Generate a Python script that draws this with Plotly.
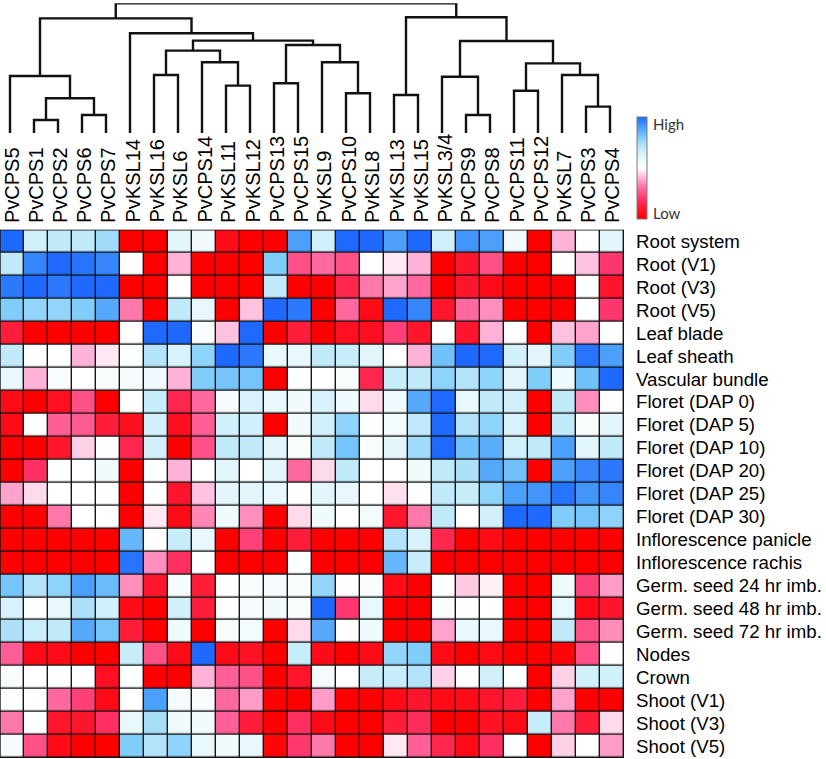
import plotly.graph_objects as go

W, H = 826, 759

genes = ["PvCPS5", "PvCPS1", "PvCPS2", "PvCPS6", "PvCPS7", "PvKSL14", "PvKSL16", "PvKSL6",
         "PvCPS14", "PvKSL11", "PvKSL12", "PvCPS13", "PvCPS15", "PvKSL9", "PvCPS10", "PvKSL8",
         "PvKSL13", "PvKSL15", "PvKSL3/4", "PvCPS9", "PvCPS8", "PvCPS11", "PvCPS12", "PvKSL7",
         "PvCPS3", "PvCPS4"]

tissues = ["Root system", "Root (V1)", "Root (V3)", "Root (V5)", "Leaf blade", "Leaf sheath",
           "Vascular bundle", "Floret (DAP 0)", "Floret (DAP 5)", "Floret (DAP 10)",
           "Floret (DAP 20)", "Floret (DAP 25)", "Floret (DAP 30)", "Inflorescence panicle",
           "Inflorescence rachis", "Germ. seed 24 hr imb.", "Germ. seed 48 hr imb.",
           "Germ. seed 72 hr imb.", "Nodes", "Crown", "Shoot (V1)", "Shoot (V3)", "Shoot (V5)"]

# relative expression (-5 = Low ... +5 = High), one list per tissue
root_system = [5, 1.5, 2, 2, 2.5, -5, -5, 1, 0.5, -4.5, -5, -5, 4, 1.5, 5, 5, 4, 5, 1.5, 4.2, 4, 0.5, -5, -1, 0, 1]
root_v1 = [2, 4.5, 5, 4.8, 4.5, 0, -5, -1, -5, -5, -5, 3, -2.5, -2, -2.5, 0, -0.3, -1, -5, -4, -2.5, -5, -5, 0, -0.8, -3]
root_v3 = [4.7, 5, 4.7, 5, 5, -5, -5, 0, -5, -5, -5, 2, -5, -5, -3.5, -1.8, -1.2, -2, -5, -4, -4.5, -5, -5, -5, 0, -4]
root_v5 = [3, 2.7, 2.7, 3, 3.8, -1.8, -5, 2, 0.8, -5, -0.8, 5, 4.7, -5, -2, -4.5, 5, 4.5, -4, -2, -1.5, -5, -5, -5, 0, -3]
leaf_blade = [-3.8, -5, -5, -5, -5, 0, 5, 5, 0.2, -0.8, 5, -5, -3.8, -5, -4.3, -4.3, -2.8, -4, 0, -4, -1, 0, -5, -0.8, -1.2, 0]
leaf_sheath = [2, 0, 0, -1, -0.3, 0.1, 2.2, 1.3, 2.8, 5, 4.7, 0.8, 0.8, 2, 1.8, 1, 0, -1, 3.3, 5, 5, 1.5, 1, 3, 4.8, 4]
vascular = [0.8, -1, 0.2, 0, 0.2, 0.3, 0.6, -1, 3, 3.2, 3.2, -5, 0.1, 0, 0.2, -3.5, 1.8, 2, 2.8, 2.2, 2.8, 1, 3, 0.6, 3.3, 5]
floret_0 = [-4.5, -5, -4.3, -2.5, -5, 0, 1.8, -3.5, -2, 0.3, 1.3, 0.8, 0.5, 1.3, 0.6, -0.5, 0.6, 3.8, 5, 0.8, 2, 1.5, -5, 2, -1.5, 0]
floret_5 = [-4.5, 0, -2.2, -2.3, -3.8, -4.3, 1.5, -4.3, -2.2, 1.5, 1.5, -5, 0.5, 1.5, 2.8, 0.1, 0.4, 2, 5, 2.2, 2.8, 1.3, -5, 2, 0.2, 1]
floret_10 = [-5, -5, -4, -0.6, 0, -3.5, 1.5, -5, -2.5, 2, 2, 1, 0.2, 2, 3.2, 0.2, 1, 2.5, 5, 3.3, 3.7, 1.5, 2, 4, 1, 2]
floret_20 = [-5, -3.2, 0, 0, 0.5, -5, 0.1, -1, 0, 1, 0, 1, -2, -0.5, 2, 0, 0, 0.5, 2, 2.3, 3.8, 3.3, -5, 4, 4.5, 4.7]
floret_25 = [-1.2, -0.5, 0, 0, 0, -5, 0, -4, -0.8, 1, 1, 0.8, 0, 1, 0.8, 0, -0.4, 0, 2, 1.8, 2.8, 4, 4.2, 4.8, 4.2, 4.5]
floret_30 = [-5, -5, -1.8, 0, 0, -5, -0.3, -4.5, -1.6, 0.6, -1.5, -5, -0.5, 0.6, 0, 0.4, -4, -1.8, 2, 0, 1.5, 5, 5, 3, 3.2, 2.8]
infl_panicle = [-5, -5, -5, -5, -5, 3.5, 0, 1.8, 0.8, -5, -2.8, -5, -3.8, -5, -5, -5, 2.2, 1.3, -3.5, -5, -4.5, -5, -5, -5, -5, -5]
infl_rachis = [-5, -5, -5, -5, -5, 4.8, -1.5, -3.2, 0, -5, -5, -5, 0.1, -5, -5, -5, 3.5, 1.8, -5, -5, -5, -5, -5, -5, -5, -5]
germ_24 = [3.2, 2.2, 2.8, 4, 3.4, -1.5, -4, 0.3, -3.8, 0, 0.2, 0.4, 0.2, 2.7, 0, 0.2, -4.5, -5, 0, -0.7, -0.2, -5, -5, 0.6, -2.8, -1.3]
germ_48 = [1.3, 0, 0.8, 2.3, 1.5, -4.5, -5, 1.5, -3.8, 0, 0.3, 0.5, 0.2, 5, -3, 0.8, -5, -5, 0.2, 0.1, 0, -5, -5, 0.8, -4.5, -4]
germ_72 = [2.3, 1.7, 2, 3.8, 3.2, -3.8, -5, 0.6, -5, 0.2, 0.4, -5, -0.5, 3.8, 0, 0.6, -5, -5, -1.2, 0.8, 0.8, -5, -5, 2, -2.5, -1.5]
nodes = [-2.2, -4.5, -4.5, -5, -5, 1.8, -2.5, -4.5, 5, -4.5, -4.2, -5, 1.8, -4.5, -5, -4.5, 2.7, 3, -4.5, -5, -4.5, -5, -5, -4.8, -2.5, 0]
crown = [0.2, 0, 0.1, 0, -4.3, 0.1, -5, -5, -1, -2.2, -2.5, -5, -4, 0.4, 0, 1.8, 1.8, 2.2, -0.6, 0, 1.5, 0.1, -5, -0.6, 1.5, 1.5]
shoot_v1 = [0.1, 0, -2, -2.8, -4.5, 0, 4, 0.4, 0.2, -2, -1.3, -5, -5, -1.3, -5, -5, -4.5, -4, -4.5, -4.5, -4, -3.8, -5, -1.2, -5, -5]
shoot_v3 = [-1.8, 0, -4, -4, -3.2, 0.8, 2.4, 0.6, 0.5, -2.2, -3.8, -5, -3.2, -4.5, -5, -5, -3.8, -3.3, -5, -5, -4.2, -4.5, 1.8, -1.8, -3.8, -0.5]
shoot_v5 = [0.3, -2.5, -4.5, -5, -5, 3, 2.2, 2.8, 0.8, 0.5, 0.8, -4.8, -3, -1.8, -5, -5, -0.3, -2.2, -3.5, -4.5, -3.2, 0, -5, -0.6, 0, -1.3]

z = [root_system, root_v1, root_v3, root_v5, leaf_blade, leaf_sheath, vascular,
     floret_0, floret_5, floret_10, floret_20, floret_25, floret_30, infl_panicle,
     infl_rachis, germ_24, germ_48, germ_72, nodes, crown, shoot_v1, shoot_v3, shoot_v5]

# hierarchical clustering of genes: (child a, child b, merge height); ids >= 26 are earlier merges
linkage = [
    (1, 2, 1.00), (3, 4, 1.39), (26, 27, 2.68), (0, 28, 4.39),
    (6, 7, 4.47), (9, 10, 3.65), (8, 31, 5.45), (30, 32, 6.35),
    (11, 12, 3.83), (14, 15, 3.06), (13, 35, 5.45), (34, 36, 6.78),
    (33, 37, 7.12), (5, 38, 7.69), (29, 39, 8.84),
    (16, 17, 2.93), (19, 20, 1.39), (18, 42, 4.34), (21, 22, 3.26),
    (24, 25, 2.03), (23, 45, 4.47), (44, 46, 5.37), (43, 47, 7.09),
    (41, 48, 8.92), (40, 49, 10.0),
]

colorscale = [
    [0.0, "rgb(255,0,0)"], [0.1, "rgb(255,22,45)"], [0.2, "rgb(255,55,110)"],
    [0.3, "rgb(255,105,160)"], [0.4, "rgb(255,178,216)"], [0.5, "rgb(255,255,255)"],
    [0.6, "rgb(226,246,252)"], [0.7, "rgb(192,233,250)"], [0.8, "rgb(128,205,250)"],
    [0.9, "rgb(75,160,250)"], [1.0, "rgb(30,105,255)"],
]

# ---- geometry (pixels) ----
hm_left, hm_right = 0.0, 624.0
hm_top, hm_bot = 229.7, 758.0
den_top, den_bot = 3.3, 133.0
py = lambda p: 1 - p / H
px = lambda p: p / W

fig = go.Figure()

fig.add_trace(go.Heatmap(
    z=z, x=list(range(len(genes))), y=list(range(len(tissues))),
    zmin=-5, zmax=5, colorscale=colorscale, xgap=1.4, ygap=1.4,
    hoverinfo="skip",
    colorbar=dict(
        x=px(637.3), xanchor="left", y=py(116.7), yanchor="top",
        thickness=10, thicknessmode="pixels", len=101.6, lenmode="pixels",
        xpad=0, ypad=0, outlinewidth=1, outlinecolor="#7a7a7a",
        showticklabels=False, ticks="",
    ),
))

# dendrogram
pos = {i: (float(i), 0.0) for i in range(len(genes))}
dx, dy = [], []
for k, (a, b, h) in enumerate(linkage):
    xa, ha = pos[a]
    xb, hb = pos[b]
    dx += [xa, xa, xb, xb, None]
    dy += [ha, h, h, hb, None]
    pos[len(genes) + k] = ((xa + xb) / 2, h)

fig.add_trace(go.Scatter(x=dx, y=dy, mode="lines", xaxis="x2", yaxis="y2",
                         line=dict(color="#111111", width=2.4), hoverinfo="skip",
                         showlegend=False))

shift = 2 / ((hm_right - hm_left) / len(genes))
fig.update_layout(
    width=W, height=H, margin=dict(l=0, r=0, t=0, b=0),
    paper_bgcolor="white", plot_bgcolor="white",
    xaxis=dict(domain=[px(hm_left), px(hm_right)], range=[-0.5, len(genes) - 0.5],
               visible=False, fixedrange=True),
    yaxis=dict(domain=[py(hm_bot), py(hm_top)], range=[len(tissues) - 0.5, -0.5],
               visible=False, fixedrange=True),
    xaxis2=dict(domain=[px(hm_left), px(hm_right)], anchor="y2",
                range=[-0.5 + shift, len(genes) - 0.5 + shift], visible=False),
    yaxis2=dict(domain=[py(den_bot), py(den_top)], anchor="x2", range=[0, 10.0],
                visible=False),
    showlegend=False,
)

# dark backing behind the heatmap so the cell gaps read as grid lines
fig.add_shape(type="rect", xref="x", yref="y", layer="below",
              x0=-0.5, x1=len(genes) - 0.5, y0=-0.5, y1=len(tissues) - 0.5,
              fillcolor="#151515", line=dict(width=0))
fig.add_shape(type="rect", xref="x", yref="y",
              x0=-0.5, x1=len(genes) - 0.5, y0=-0.5, y1=len(tissues) - 0.5,
              line=dict(color="#151515", width=1.4))

font = "Liberation Sans, Arial, sans-serif"
ann = []
for i, g in enumerate(genes):
    ann.append(dict(x=i, xref="x", y=py(225), yref="paper", text=g, showarrow=False,
                    textangle=-90, xanchor="center", yanchor="bottom",
                    font=dict(family=font, size=20, color="black")))
for j, t in enumerate(tissues):
    ann.append(dict(x=px(633.5), xref="paper", y=j, yref="y", text=t, showarrow=False,
                    xanchor="left", yanchor="middle",
                    font=dict(family=font, size=18.7, color="black")))
ann.append(dict(x=px(651), xref="paper", y=py(124), yref="paper", text="High",
                showarrow=False, xanchor="left", yanchor="middle",
                font=dict(family="Lato, Open Sans, sans-serif", size=15, color="#333333")))
ann.append(dict(x=px(651), xref="paper", y=py(213), yref="paper", text="Low",
                showarrow=False, xanchor="left", yanchor="middle",
                font=dict(family="Lato, Open Sans, sans-serif", size=15, color="#333333")))
fig.update_layout(annotations=ann)

fig.write_html("out.html", config={"displayModeBar": False},
               post_script="document.body.style.margin='0';")
